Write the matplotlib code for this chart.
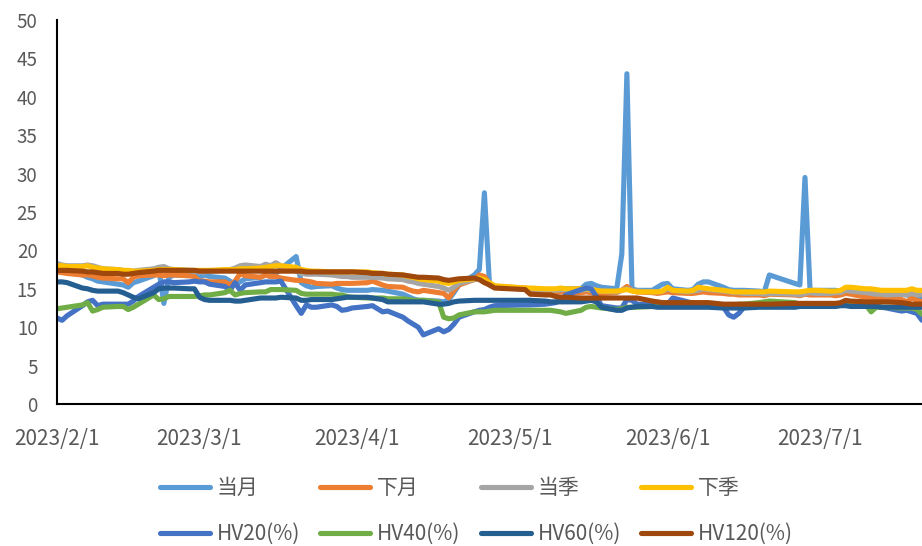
import matplotlib
matplotlib.use("Agg")
import matplotlib.pyplot as plt
import matplotlib.dates as mdates
import pandas as pd

plt.rcParams['font.family'] = ['Noto Sans CJK SC', 'DejaVu Sans']

# trading days (month -> days)
feb_days = [1, 2, 3, 6, 7, 8, 9, 10, 13, 14, 15, 16, 17, 20, 21, 22, 23, 24, 27, 28]
mar_days = [1, 2, 3, 6, 7, 8, 9, 10, 13, 14, 15, 16, 17, 20, 21, 22, 23, 24, 27, 28, 29, 30, 31]
apr_days = [3, 4, 6, 7, 10, 11, 12, 13, 14, 17, 18, 19, 20, 21, 24, 25, 26, 27, 28]
may_days = [4, 5, 8, 9, 10, 11, 12, 15, 16, 17, 18, 19, 22, 23, 24, 25, 26, 29, 30, 31]
jun_days = [1, 2, 5, 6, 7, 8, 9, 12, 13, 14, 15, 16, 19, 20, 21, 26, 27, 28, 29, 30]
jul_days = [3, 4, 5, 6, 7, 10, 11, 12, 13, 14, 17, 18, 19, 20, 21]

dates = ([pd.Timestamp(2023, 2, d) for d in feb_days] + [pd.Timestamp(2023, 3, d) for d in mar_days] +
         [pd.Timestamp(2023, 4, d) for d in apr_days] + [pd.Timestamp(2023, 5, d) for d in may_days] +
         [pd.Timestamp(2023, 6, d) for d in jun_days] + [pd.Timestamp(2023, 7, d) for d in jul_days])

dangyue = [17.5, 17.3, 17.2, 16.8, 16.5, 16.3, 16.0, 15.9, 15.6, 15.5, 15.2, 15.8, 16.0, 16.7, 17.6, 13.1, 16.5, 16.8, 16.7, 16.9,
           16.5, 16.8, 16.6, 16.4, 16.0, 15.6, 15.9, 16.3, 16.5, 16.8, 16.6, 17.0, 17.6, 19.2, 15.8, 15.4, 15.2, 15.3, 15.4, 15.1, 14.9, 14.8, 14.8,
           14.8, 14.9, 14.8, 14.7, 14.3, 14.0, 13.7, 13.5, 13.5, 13.4, 13.3, 13.6, 14.5, 15.5, 16.8, 17.5, 27.5, 15.5, 15.2,
           15.0, 14.9, 14.8, 14.8, 14.7, 14.8, 15.0, 15.0, 15.6, 15.7, 15.4, 15.2, 15.0, 19.5, 43.0, 15.0, 14.8, 14.8, 15.2, 15.6,
           15.7, 15.0, 14.8, 14.9, 15.6, 15.9, 15.9, 15.2, 14.9, 14.8, 14.8, 14.8, 14.7, 14.6, 16.8, 15.7, 15.5, 29.5, 14.8, 14.8,
           14.8, 14.8, 14.7, 15.0, 14.9, 14.7, 14.6, 14.5, 14.5, 14.4, 14.3, 14.2, 14.1, 14.0, 13.9]

xiayue = [17.2, 17.1, 17.0, 16.8, 16.8, 16.7, 16.5, 16.4, 16.3, 16.3, 15.8, 16.5, 16.7, 16.8, 16.8, 16.7, 16.8, 16.8, 16.7, 16.6,
          16.0, 16.0, 15.9, 15.9, 15.5, 16.0, 17.0, 16.7, 16.5, 16.8, 16.6, 16.6, 16.4, 16.1, 16.1, 16.0, 15.9, 15.7, 15.6, 15.7, 15.7, 15.7, 15.7,
          15.8, 16.0, 15.5, 15.3, 15.2, 14.9, 14.7, 14.6, 14.8, 14.5, 14.4, 13.8, 14.8, 15.5, 16.2, 16.8, 16.6, 15.7, 15.3,
          15.1, 15.0, 14.8, 14.7, 14.6, 14.6, 14.6, 14.5, 14.6, 14.5, 14.4, 14.4, 14.5, 14.8, 15.3, 14.8, 14.6, 14.5, 14.4, 14.5,
          14.6, 14.5, 14.4, 14.4, 14.5, 14.6, 14.5, 14.4, 14.3, 14.3, 14.2, 14.2, 14.2, 14.1, 14.3, 14.2, 14.1, 14.3, 14.2, 14.2,
          14.2, 14.1, 14.2, 14.4, 14.3, 13.9, 13.9, 13.8, 13.8, 13.8, 13.6, 13.3, 13.8, 13.5, 13.3]

dangji = [18.3, 18.1, 18.0, 18.0, 18.1, 18.0, 17.8, 17.6, 17.5, 17.4, 17.3, 17.3, 17.4, 17.6, 17.8, 17.9, 17.6, 17.5, 17.4, 17.3,
          17.2, 17.2, 17.3, 17.4, 17.5, 17.7, 18.0, 18.1, 17.9, 18.2, 18.0, 18.4, 18.0, 17.3, 17.0, 16.9, 16.9, 16.9, 16.8, 16.7, 16.6, 16.6, 16.5,
          16.5, 16.5, 16.4, 16.3, 16.2, 16.0, 15.9, 15.7, 15.6, 15.3, 15.1, 14.8, 15.2, 15.7, 16.2, 16.4, 16.0, 15.5, 15.2,
          15.0, 15.0, 14.9, 14.9, 14.8, 14.9, 14.9, 14.8, 14.9, 14.8, 14.8, 14.7, 14.6, 14.8, 15.0, 14.8, 14.7, 14.6, 14.6, 14.7,
          15.0, 14.8, 14.6, 14.7, 14.8, 15.0, 14.9, 14.7, 14.6, 14.5, 14.5, 14.4, 14.4, 14.3, 14.4, 14.3, 14.2, 14.4, 14.5, 14.4,
          14.4, 14.5, 14.5, 14.8, 14.7, 14.5, 14.4, 14.3, 14.3, 14.2, 14.3, 14.2, 14.4, 14.2, 14.3]

xiaji = [18.0, 18.0, 17.9, 17.9, 18.0, 17.8, 17.7, 17.6, 17.5, 17.4, 17.4, 17.3, 17.3, 17.4, 17.5, 17.5, 17.5, 17.5, 17.4, 17.4,
         17.4, 17.4, 17.4, 17.5, 17.5, 17.5, 17.6, 17.6, 17.7, 17.8, 17.9, 18.0, 18.0, 17.8, 17.5, 17.4, 17.3, 17.3, 17.2, 17.2, 17.2, 17.2, 17.2,
         17.2, 17.1, 17.0, 16.9, 16.8, 16.6, 16.5, 16.3, 16.2, 16.0, 15.8, 15.7, 15.9, 16.1, 16.3, 16.4, 16.2, 15.8, 15.4,
         15.1, 15.1, 15.0, 15.0, 15.0, 15.1, 15.0, 15.0, 15.0, 14.9, 14.8, 14.7, 14.7, 14.8, 14.9, 14.7, 14.6, 14.6, 14.6, 14.7,
         15.2, 14.8, 14.7, 14.8, 15.2, 15.1, 15.0, 14.8, 14.7, 14.6, 14.6, 14.6, 14.6, 14.6, 14.7, 14.6, 14.6, 14.7, 14.8, 14.8,
         14.7, 14.7, 14.8, 15.2, 15.2, 15.0, 15.0, 14.9, 14.8, 14.8, 14.8, 14.8, 15.0, 14.8, 14.8]

hv20 = [11.2, 10.9, 11.5, 12.8, 13.3, 13.5, 12.8, 13.0, 13.0, 13.0, 13.0, 13.4, 14.0, 15.2, 15.6, 15.9, 15.9, 15.8, 15.9, 16.0,
        15.9, 15.9, 15.6, 15.3, 14.8, 15.8, 14.8, 15.5, 15.8, 15.9, 15.9, 15.9, 16.0, 12.8, 11.8, 12.9, 12.6, 12.6, 12.9, 12.7, 12.2, 12.3, 12.5,
        12.7, 12.8, 12.0, 12.1, 11.3, 10.8, 10.4, 10.0, 9.0, 9.8, 9.4, 9.7, 10.4, 11.3, 12.0, 12.2, 12.3, 12.6, 12.8,
        12.9, 12.9, 13.0, 13.1, 13.2, 13.5, 14.2, 14.9, 15.1, 15.0, 14.0, 12.8, 12.5, 12.5, 13.6, 13.5, 13.0, 12.9, 12.9, 12.8,
        13.0, 13.8, 13.3, 13.1, 13.0, 13.0, 13.1, 12.6, 11.6, 11.3, 11.8, 12.6, 12.8, 12.8, 12.8, 12.8, 12.8, 12.9, 12.9, 12.8,
        12.9, 13.0, 13.0, 13.0, 13.0, 12.9, 12.8, 12.8, 12.6, 12.5, 12.1, 12.2, 12.0, 11.8, 10.9]

hv40 = [12.4, 12.5, 12.6, 12.9, 13.2, 12.1, 12.3, 12.6, 12.7, 12.7, 12.3, 12.6, 13.0, 14.2, 13.6, 13.7, 14.0, 14.0, 14.0, 14.0,
        14.1, 14.2, 14.2, 14.5, 14.8, 14.2, 14.4, 14.5, 14.6, 14.6, 14.9, 14.9, 14.9, 14.8, 14.4, 14.3, 14.3, 14.3, 14.3, 14.2, 14.2, 14.0, 13.9,
        13.8, 13.8, 13.8, 13.7, 13.7, 13.6, 13.5, 13.5, 13.5, 13.3, 11.3, 11.1, 11.2, 11.6, 12.0, 12.0, 12.0, 12.1, 12.2,
        12.2, 12.2, 12.2, 12.2, 12.1, 12.0, 11.8, 12.2, 12.6, 12.7, 12.6, 12.5, 12.3, 12.4, 12.6, 12.6, 12.6, 12.7, 12.8, 12.8,
        12.8, 12.9, 12.9, 12.9, 12.9, 12.9, 12.9, 12.9, 12.9, 12.9, 13.0, 13.0, 13.2, 13.3, 13.4, 13.2, 13.0, 13.0, 13.0, 13.0,
        13.0, 13.0, 13.0, 12.9, 12.9, 12.9, 12.0, 12.6, 12.6, 12.6, 12.5, 12.5, 12.5, 12.3, 11.7]

hv60 = [15.9, 15.9, 15.8, 15.1, 15.0, 14.8, 14.7, 14.7, 14.7, 14.5, 14.2, 13.9, 13.7, 14.5, 15.0, 15.1, 15.1, 15.1, 15.0, 15.0,
        13.9, 13.6, 13.5, 13.5, 13.5, 13.4, 13.4, 13.5, 13.8, 13.8, 13.8, 13.8, 13.9, 13.8, 13.5, 13.5, 13.6, 13.6, 13.6, 13.7, 13.8, 13.9, 13.9,
        13.9, 13.8, 13.6, 13.3, 13.3, 13.3, 13.3, 13.3, 13.3, 13.0, 13.0, 13.1, 13.3, 13.4, 13.5, 13.5, 13.5, 13.5, 13.5,
        13.5, 13.5, 13.4, 13.3, 13.3, 13.3, 13.3, 13.3, 13.4, 13.5, 13.3, 12.6, 12.2, 12.2, 12.5, 12.6, 12.7, 12.7, 12.6, 12.6,
        12.6, 12.6, 12.6, 12.6, 12.6, 12.6, 12.6, 12.5, 12.5, 12.5, 12.5, 12.5, 12.6, 12.6, 12.6, 12.6, 12.7, 12.7, 12.7, 12.7,
        12.7, 12.7, 12.8, 12.8, 12.7, 12.7, 12.7, 12.7, 12.6, 12.6, 12.6, 12.6, 12.6, 12.6, 12.6]

hv120 = [17.4, 17.4, 17.4, 17.3, 17.2, 17.2, 17.1, 17.0, 17.0, 16.9, 16.9, 17.0, 17.1, 17.3, 17.4, 17.4, 17.4, 17.4, 17.4, 17.4,
         17.3, 17.3, 17.3, 17.3, 17.3, 17.3, 17.3, 17.3, 17.3, 17.3, 17.3, 17.3, 17.3, 17.3, 17.3, 17.2, 17.2, 17.2, 17.2, 17.2, 17.2, 17.2, 17.2,
         17.1, 17.0, 17.0, 16.9, 16.8, 16.7, 16.6, 16.5, 16.5, 16.4, 16.2, 16.1, 16.2, 16.3, 16.4, 16.2, 15.8, 15.5, 15.1,
         14.9, 14.3, 14.2, 14.2, 14.0, 13.9, 13.9, 13.8, 13.8, 13.8, 13.8, 13.8, 13.8, 13.8, 13.8, 13.8, 13.8, 13.4, 13.3, 13.2,
         13.2, 13.2, 13.2, 13.2, 13.2, 13.2, 13.2, 13.0, 13.0, 13.0, 13.0, 13.0, 13.0, 13.0, 13.0, 13.1, 13.1, 13.1, 13.1, 13.1,
         13.1, 13.1, 13.2, 13.5, 13.4, 13.3, 13.3, 13.3, 13.3, 13.3, 13.2, 13.1, 13.0, 13.0, 13.0]

series_names = ['当月', '下月', '当季', '下季', 'HV20(%)', 'HV40(%)', 'HV60(%)', 'HV120(%)']
series_values = [dangyue, xiayue, dangji, xiaji, hv20, hv40, hv60, hv120]
colors = ['#5B9BD5', '#ED7D31', '#A5A5A5', '#FFC000', '#4472C4', '#70AD47', '#255E91', '#9E480E']

y_ticks = list(range(0, 55, 5))
x_tick_dates = [pd.Timestamp(2023, m, 1) for m in range(2, 8)]

fig = plt.figure(figsize=(9.22, 5.46), dpi=100)
ax = fig.add_axes([57 / 922, 1 - 404 / 546, 1 - 57 / 922, (404 - 20) / 546])

lines = []
for name, vals, c in zip(series_names, series_values, colors):
    ln, = ax.plot(dates, vals, color=c, lw=3.7, label=name, solid_joinstyle='round', solid_capstyle='round')
    lines.append(ln)

ax.set_ylim(0, 50)
ax.set_yticks(y_ticks)
ax.set_xlim(pd.Timestamp(2023, 2, 1), pd.Timestamp(2023, 7, 21))
ax.set_xticks(x_tick_dates)
ax.xaxis.set_major_formatter(mdates.DateFormatter('%Y/%-m/%-d'))

for s in ['top', 'right']:
    ax.spines[s].set_visible(False)
for s in ['left', 'bottom']:
    ax.spines[s].set_color('#000000')
    ax.spines[s].set_linewidth(1.5)
ax.tick_params(axis='both', length=0, labelcolor='#595959')
ax.tick_params(axis='y', pad=14, labelsize=13.5)
ax.tick_params(axis='x', pad=17, labelsize=15)

# legend filled row-wise: reorder for matplotlib's column-major fill
order = [0, 4, 1, 5, 2, 6, 3, 7]
leg = fig.legend([lines[i] for i in order], [series_names[i] for i in order], ncol=4,
                 loc='upper left', bbox_to_anchor=(160 / 922, 1 - 477 / 546),
                 frameon=False, fontsize=15, handlelength=2.4, handletextpad=0.33,
                 columnspacing=0.97, labelspacing=1.15, borderaxespad=0, borderpad=0)
for t in leg.get_texts():
    t.set_color('#595959')

fig.savefig('out.png', dpi=100)
